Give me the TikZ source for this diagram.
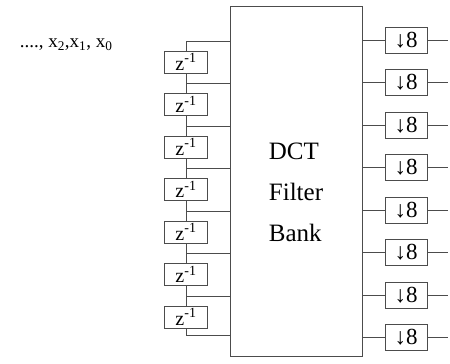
\documentclass[tikz,border=0pt]{standalone}
\usepackage{fontspec}
\setmainfont{Liberation Serif}
\usetikzlibrary{positioning,calc}

\begin{document}
\begin{tikzpicture}[x=1pt,y=-1pt,node distance=20pt and 20pt,
    wire/.style={draw=black!70,line width=0.5pt},
    delay/.style={wire,minimum width=43pt,minimum height=22pt,inner sep=0pt,font=\fontsize{20}{22}\selectfont},
    down/.style={wire,minimum width=42pt,minimum height=26pt,inner sep=0pt,font=\fontsize{23}{25}\selectfont}]
  \useasboundingbox (0,0) rectangle (450,364);
  \node[anchor=east,font=\fontsize{19}{21}\selectfont] (seq) at (116,45) {...., x\textsubscript{2},x\textsubscript{1}, x\textsubscript{0}};
  \node[wire,minimum width=132pt,minimum height=350pt] (dct) at (296,181) {};
  \node[align=left,font=\fontsize{25}{41}\selectfont] (dcttxt) at (296,192) {DCT\\Filter\\Bank};
  % delay chain
  \node[delay] (d1) at (186,62) {z\textsuperscript{-1}};
  \node[delay,below=of d1] (d2) {z\textsuperscript{-1}};
  \node[delay,below=of d2] (d3) {z\textsuperscript{-1}};
  \node[delay,below=of d3] (d4) {z\textsuperscript{-1}};
  \node[delay,below=of d4] (d5) {z\textsuperscript{-1}};
  \node[delay,below=of d5] (d6) {z\textsuperscript{-1}};
  \node[delay,below=of d6] (d7) {z\textsuperscript{-1}};
  % downsamplers
  \node[down] (r1) at (406,40) {↓8};
  \node[down,below=16pt of r1] (r2) {↓8};
  \node[down,below=16pt of r2] (r3) {↓8};
  \node[down,below=16pt of r3] (r4) {↓8};
  \node[down,below=16pt of r4] (r5) {↓8};
  \node[down,below=16pt of r5] (r6) {↓8};
  \node[down,below=16pt of r6] (r7) {↓8};
  \node[down,below=16pt of r7] (r8) {↓8};
  \coordinate (t0) at (186,41);
  \coordinate (t7) at (186,335);
  \coordinate (outx) at (448,0);
  \path ($(d1)!0.5!(d2)$) coordinate (t1) ($(d2)!0.5!(d3)$) coordinate (t2)
        ($(d3)!0.5!(d4)$) coordinate (t3) ($(d4)!0.5!(d5)$) coordinate (t4)
        ($(d5)!0.5!(d6)$) coordinate (t5) ($(d6)!0.5!(d7)$) coordinate (t6);
  \draw[wire] (d1.north) -- (t0) -- (t0 -| dct.west);
  \draw[wire] (d1) -- (d2);
  \draw[wire] (d2) -- (d3);
  \draw[wire] (d3) -- (d4);
  \draw[wire] (d4) -- (d5);
  \draw[wire] (d5) -- (d6);
  \draw[wire] (d6) -- (d7);
  \draw[wire] (d7.south) -- (t7) -- (t7 -| dct.west);
  \draw[wire] (t1) -- (t1 -| dct.west);
  \draw[wire] (t2) -- (t2 -| dct.west);
  \draw[wire] (t3) -- (t3 -| dct.west);
  \draw[wire] (t4) -- (t4 -| dct.west);
  \draw[wire] (t5) -- (t5 -| dct.west);
  \draw[wire] (t6) -- (t6 -| dct.west);
  \draw[wire] (r1.west -| dct.east) -- (r1.west);
  \draw[wire] (r2.west -| dct.east) -- (r2.west);
  \draw[wire] (r3.west -| dct.east) -- (r3.west);
  \draw[wire] (r4.west -| dct.east) -- (r4.west);
  \draw[wire] (r5.west -| dct.east) -- (r5.west);
  \draw[wire] (r6.west -| dct.east) -- (r6.west);
  \draw[wire] (r7.west -| dct.east) -- (r7.west);
  \draw[wire] (r8.west -| dct.east) -- (r8.west);
  \draw[wire] (r1.east) -- (r1.east -| outx);
  \draw[wire] (r2.east) -- (r2.east -| outx);
  \draw[wire] (r3.east) -- (r3.east -| outx);
  \draw[wire] (r4.east) -- (r4.east -| outx);
  \draw[wire] (r5.east) -- (r5.east -| outx);
  \draw[wire] (r6.east) -- (r6.east -| outx);
  \draw[wire] (r7.east) -- (r7.east -| outx);
  \draw[wire] (r8.east) -- (r8.east -| outx);
\end{tikzpicture}
\end{document}
